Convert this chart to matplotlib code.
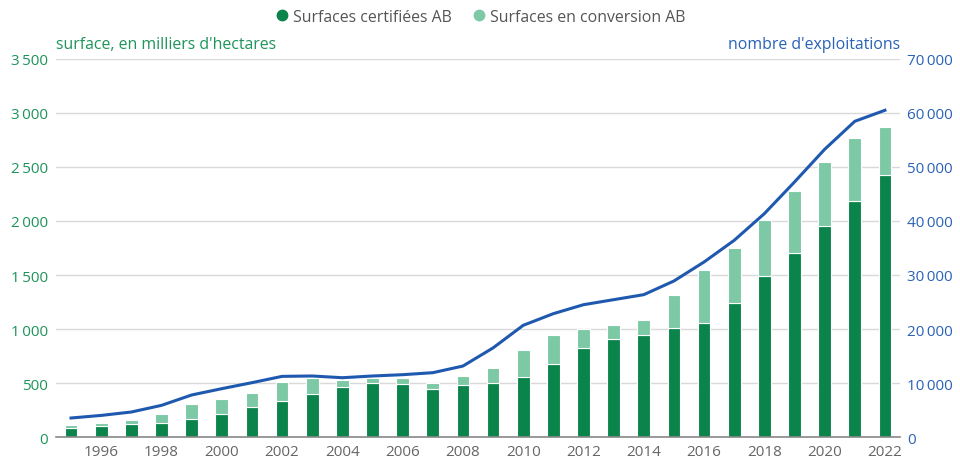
import matplotlib
matplotlib.use("Agg")
import matplotlib.pyplot as plt
from matplotlib.ticker import FuncFormatter
from matplotlib.lines import Line2D

plt.rcParams['font.family'] = ['Open Sans', 'DejaVu Sans']

# Data
years = list(range(1995, 2023))
certified = [80, 102, 117, 133, 170, 213, 275, 330, 398, 463, 497, 488, 444, 481,
             500, 555, 679, 824, 907, 941, 1012, 1059, 1244, 1491, 1707, 1953, 2185, 2426]
total = [108, 127, 157, 210, 302, 355, 410, 509, 546, 525, 543, 543, 497, 562,
         636, 809, 941, 997, 1034, 1080, 1312, 1543, 1753, 2006, 2278, 2546, 2771, 2870]
conversion = [t - c for t, c in zip(total, certified)]
farms = [3520, 4000, 4630, 5860, 7780, 8950, 10060, 11230, 11300, 10980, 11300, 11540,
         11910, 13140, 16500, 20680, 22840, 24500, 25430, 26360, 28890, 32410, 36420,
         41360, 47220, 53270, 58460, 60500]

C_CERT = '#0B844B'
C_CONV = '#7DC9A6'
C_LINE = '#1F59AF'
C_LEFT = '#1E945A'
C_RIGHT = '#2A62B8'
C_GREY = '#666666'

fig = plt.figure(figsize=(9.6, 4.6), dpi=100)
ax = fig.add_axes([0.0583, 0.0478, 0.8792, 0.8218])

ax.bar(years, certified, width=0.42, color=C_CERT, edgecolor='white', linewidth=0.8, zorder=2)
ax.bar(years, conversion, bottom=certified, width=0.42, color=C_CONV,
       edgecolor='white', linewidth=0.8, zorder=2)

ax.set_xlim(1994.5, 2022.5)
ax.set_ylim(0, 3500)
ax.set_yticks(range(0, 3501, 500))
ax.set_xticks(range(1996, 2023, 2))

def fmt(v, pos):
    return f"{int(v):,}".replace(",", "\u2009")

ax.yaxis.set_major_formatter(FuncFormatter(fmt))
ax.grid(axis='y', color='#D9D9D9', linewidth=1, zorder=0)
ax.set_axisbelow(True)
for s in ['top', 'right', 'left']:
    ax.spines[s].set_visible(False)
ax.spines['bottom'].set_color('#888888')
ax.spines['bottom'].set_linewidth(1.2)
ax.tick_params(axis='both', length=0, labelsize=11)
ax.tick_params(axis='y', colors=C_LEFT, pad=6)
ax.tick_params(axis='x', colors=C_GREY, pad=5)

ax2 = ax.twinx()
ax2.plot(years, farms, color=C_LINE, linewidth=2.2, zorder=3)
ax2.set_ylim(0, 70000)
ax2.set_yticks(range(0, 70001, 10000))
ax2.yaxis.set_major_formatter(FuncFormatter(fmt))
for s in ['top', 'right', 'left', 'bottom']:
    ax2.spines[s].set_visible(False)
ax2.tick_params(axis='y', length=0, labelsize=11, colors=C_RIGHT, pad=5)

# Axis titles
fig.text(56 / 960, 1 - 45 / 460, "surface, en milliers d'hectares", color=C_LEFT,
         fontsize=11.4, ha='left', va='center')
fig.text(900 / 960, 1 - 45 / 460, "nombre d'exploitations", color=C_RIGHT,
         fontsize=11.4, ha='right', va='center')

# Legend
handles = [Line2D([], [], marker='o', linestyle='', color=C_CERT, markersize=7.5),
           Line2D([], [], marker='o', linestyle='', color=C_CONV, markersize=7.5)]
leg = fig.legend(handles, ['Surfaces certifiées AB', 'Surfaces en conversion AB'],
                 loc='center', bbox_to_anchor=(0.5, 1 - 18 / 460), ncol=2, frameon=False,
                 fontsize=11.4, handletextpad=0.2, columnspacing=1.2, handlelength=1.0)
for t in leg.get_texts():
    t.set_color('#555555')

fig.savefig('out.png', dpi=100, facecolor='white')
